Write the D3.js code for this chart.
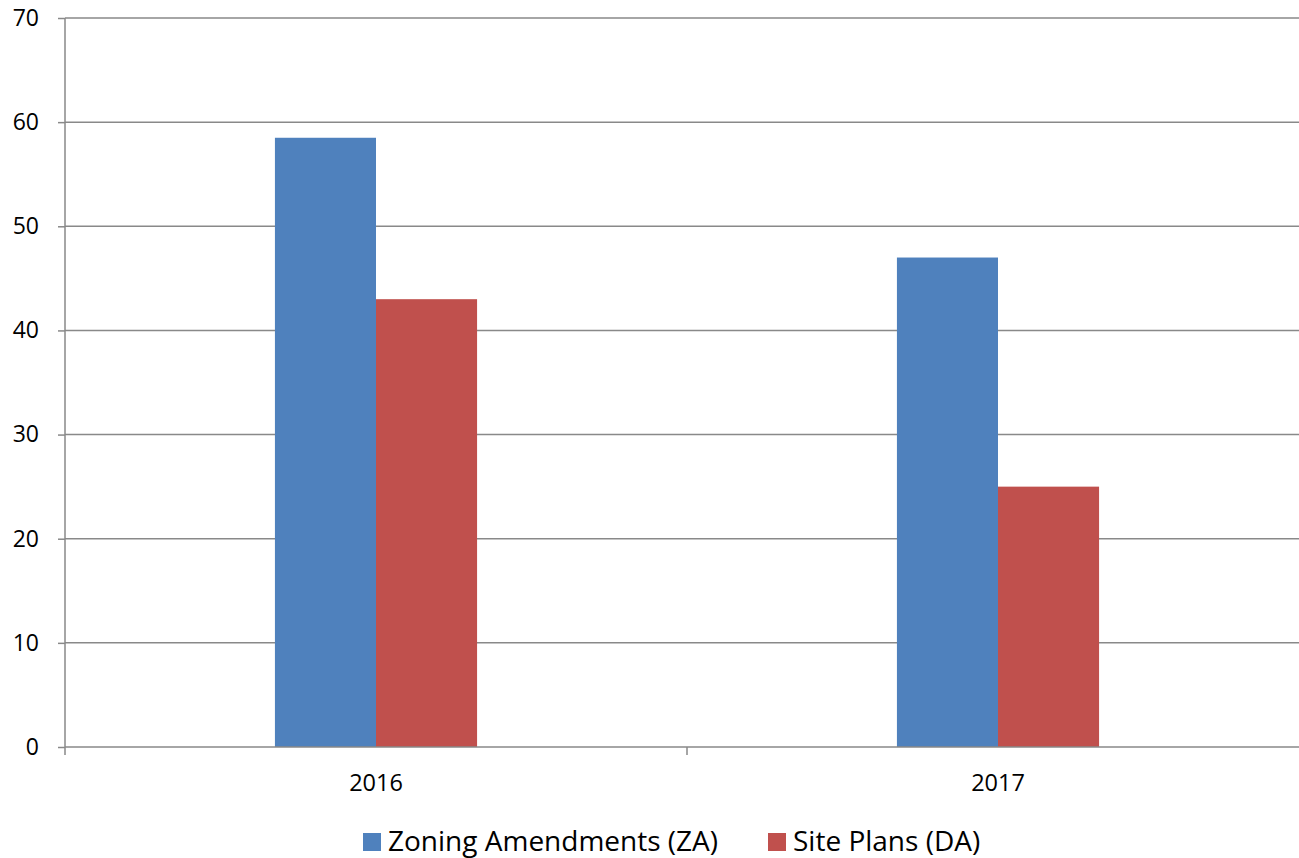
<!DOCTYPE html>
<html><head><meta charset="utf-8">
<script src="https://cdn.jsdelivr.net/npm/d3@7"></script>
<style>html,body{margin:0;padding:0;background:#fff;}svg{display:block;}</style>
</head><body>
<svg id="c" width="1299" height="858"></svg>
<script>
const categories = ["2016", "2017"];
const seriesNames = ["Zoning Amendments (ZA)", "Site Plans (DA)"];
const zaValues = [58.5, 47];
const daValues = [43, 25];
const yTicks = [0, 10, 20, 30, 40, 50, 60, 70];
const colors = ["#4F81BD", "#C0504D"];

(function () {
const svg = d3.select("#c");
const font = "'Open Sans', 'Liberation Sans', sans-serif";
const mLeft = 65, mRight = 1309, mTop = 18, mBottom = 747;

const x = d3.scaleBand().domain(categories).range([mLeft, mRight]).paddingInner(0).paddingOuter(0);
const y = d3.scaleLinear().domain([0, 70]).range([mBottom, mTop]);
const barW = x.bandwidth() * 0.1625;

// gridlines
svg.append("g").selectAll("line").data(yTicks.filter(d => d > 0)).join("line")
  .attr("x1", mLeft).attr("x2", mRight)
  .attr("y1", d => y(d)).attr("y2", d => y(d))
  .attr("stroke", "#898989").attr("stroke-width", 1.5);

// bars
const series = [zaValues, daValues];
series.forEach((vals, si) => {
  svg.append("g").selectAll("rect").data(categories).join("rect")
    .attr("x", (d) => x(d) + x.bandwidth() / 2 - barW + si * barW)
    .attr("width", barW)
    .attr("y", (d, i) => y(vals[i]))
    .attr("height", (d, i) => y(0) - y(vals[i]))
    .attr("fill", colors[si]);
});

// y axis
const yAxis = d3.axisLeft(y).tickValues(yTicks).tickSize(7).tickPadding(19).tickFormat(d3.format("d"));
const gy = svg.append("g").attr("transform", `translate(${mLeft},0)`).call(yAxis);
gy.select(".domain").attr("stroke", "#898989").attr("stroke-width", 1.5).attr("d", `M0,${mTop}V${mBottom + 8}`);
gy.selectAll(".tick line").attr("stroke", "#898989").attr("stroke-width", 1.5);
gy.selectAll(".tick text").attr("font-family", font).attr("font-size", 23).attr("fill", "#000");

// x axis
const xAxis = d3.axisBottom(x).tickSize(0).tickPadding(27);
const gx = svg.append("g").attr("transform", `translate(0,${mBottom})`).call(xAxis);
gx.select(".domain").attr("stroke", "#898989").attr("stroke-width", 1.5).attr("d", `M${mLeft},0H${mRight}`);
gx.selectAll(".tick text").attr("font-family", font).attr("font-size", 23.5).attr("fill", "#000");
// category boundary ticks
const bounds = categories.map(c => x(c) + x.bandwidth());
svg.append("g").selectAll("line").data(bounds).join("line")
  .attr("x1", d => d).attr("x2", d => d).attr("y1", mBottom).attr("y2", mBottom + 8)
  .attr("stroke", "#898989").attr("stroke-width", 1.5);

// legend
const legendX = [363, 768];
const lg = svg.append("g");
seriesNames.forEach((n, i) => {
  lg.append("rect").attr("x", legendX[i]).attr("y", 833).attr("width", 18).attr("height", 18).attr("fill", colors[i]);
  lg.append("text").attr("x", legendX[i] + 25).attr("y", 851).text(n)
    .attr("font-family", font).attr("font-size", 28).attr("fill", "#000");
});
})();
</script>
</body></html>
